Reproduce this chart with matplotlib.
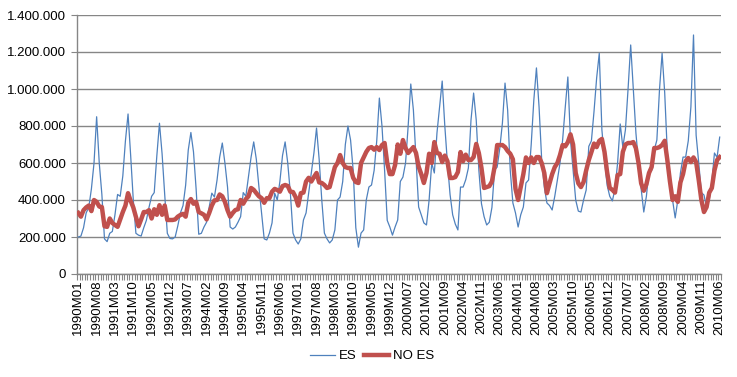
import matplotlib
matplotlib.use("Agg")
import matplotlib.pyplot as plt
from matplotlib.ticker import FuncFormatter, FixedLocator

start_year = 1990
n_months = 246

# values in thousands
es = [
    200, 205, 250, 330, 360, 460, 600, 850, 600, 430, 190, 175,
    220, 230, 320, 430, 420, 530, 720, 865, 640, 400, 220, 210,
    205, 250, 290, 360, 420, 440, 640, 815, 650, 430, 220, 192,
    190, 200, 260, 330, 370, 480, 670, 765, 660, 460, 215, 220,
    254, 280, 362, 437, 416, 508, 632, 708, 600, 470, 254, 243,
    254, 280, 310, 440, 420, 524, 632, 714, 620, 470, 330, 190,
    184, 221, 276, 437, 400, 500, 640, 714, 600, 437, 221, 184,
    162, 190, 292, 330, 437, 546, 654, 789, 620, 400, 221, 190,
    168, 184, 238, 400, 416, 500, 700, 800, 724, 560, 250, 145,
    221, 238, 400, 470, 481, 560, 720, 951, 800, 560, 290, 254,
    210, 254, 292, 500, 524, 600, 800, 1027, 886, 620, 362, 320,
    276, 265, 400, 600, 546, 762, 900, 1043, 800, 600, 430, 320,
    270, 238, 470, 470, 510, 573, 832, 978, 832, 562, 380, 310,
    265, 280, 360, 562, 578, 680, 816, 1032, 886, 560, 384, 330,
    254, 320, 362, 492, 508, 700, 940, 1114, 903, 620, 470, 384,
    370, 346, 420, 508, 600, 724, 900, 1065, 724, 560, 400, 340,
    335, 400, 454, 690, 720, 880, 1060, 1193, 780, 616, 480, 420,
    395, 460, 600, 811, 686, 780, 1000, 1238, 995, 762, 600, 460,
    335, 420, 560, 560, 670, 724, 995, 1193, 978, 654, 480, 400,
    303, 400, 546, 632, 632, 720, 903, 1292, 750, 600, 440, 427,
    360, 400, 500, 654, 630, 740,
]

no_es = [
    330, 310, 345, 360, 370, 340, 400, 390, 365, 362, 258, 255,
    300, 276, 265, 255, 295, 335, 370, 437, 395, 360, 308, 258,
    295, 335, 335, 345, 300, 350, 320, 372, 320, 370, 292, 292,
    292, 295, 310, 319, 325, 310, 385, 405, 380, 390, 335, 328,
    320, 295, 330, 370, 398, 400, 430, 420, 390, 345, 310, 330,
    346, 350, 400, 380, 405, 420, 465, 455, 437, 420, 410, 385,
    410, 410, 445, 460, 454, 445, 475, 481, 476, 445, 443, 416,
    370, 437, 440, 500, 520, 500, 524, 546, 495, 492, 481, 465,
    470, 524, 578, 600, 643, 600, 578, 573, 573, 520, 497, 492,
    600, 630, 660, 681, 686, 672, 686, 670, 697, 708, 600, 540,
    540, 589, 700, 650, 724, 681, 654, 670, 686, 654, 580, 540,
    492, 546, 650, 600, 713, 654, 650, 605, 640, 610, 519, 519,
    524, 551, 659, 610, 645, 616, 616, 632, 703, 654, 573, 465,
    470, 475, 500, 578, 697, 697, 697, 686, 665, 650, 620, 460,
    400, 470, 540, 630, 600, 630, 600, 632, 632, 600, 546, 437,
    490, 540, 578, 600, 643, 697, 690, 713, 755, 700, 546, 490,
    470, 497, 560, 616, 659, 705, 686, 720, 730, 660, 550, 465,
    455, 440, 535, 540, 660, 700, 708, 708, 713, 680, 600, 490,
    450, 485, 546, 578, 681, 681, 686, 697, 720, 616, 500, 400,
    420, 390, 495, 540, 610, 627, 605, 630, 605, 508, 400, 335,
    362, 440, 465, 560, 616, 632,
]

categories = ["%dM%02d" % (start_year + i // 12, i % 12 + 1) for i in range(n_months)]
label_step = 7

plt.rcParams['font.family'] = ['Liberation Sans', 'DejaVu Sans']

fig = plt.figure(figsize=(7.37, 3.77), dpi=100)
ax = fig.add_axes([77 / 737, 1 - 274 / 377, (721 - 77) / 737, (274 - 15) / 377])

x = list(range(n_months))
ax.plot(x, [v * 1000 for v in es], color='#4F81BD', lw=0.9, label='ES', zorder=3)
ax.plot(x, [v * 1000 for v in no_es], color='#C0504D', lw=3.2, label='NO ES', zorder=4,
        solid_joinstyle='round')

ax.set_xlim(-0.5, n_months - 0.5)
ax.set_ylim(0, 1400000)
ax.set_yticks(range(0, 1400001, 200000))
ax.yaxis.set_major_formatter(FuncFormatter(lambda v, p: "{:,}".format(int(v)).replace(",", ".")))
ax.grid(axis='y', color='#868686', lw=1.0)
ax.set_axisbelow(True)

# x ticks: marks at category boundaries, labels every 7 categories
ax.xaxis.set_minor_locator(FixedLocator([i - 0.5 for i in range(n_months + 1)]))
ax.set_xticks(x[::label_step])
ax.set_xticklabels(categories[::label_step], rotation=90, fontsize=9.5)
ax.tick_params(axis='x', which='major', length=0, pad=4)
ax.tick_params(axis='x', which='minor', length=4, color='#868686', width=0.8)
ax.tick_params(axis='y', length=4, color='#868686', labelsize=9.5, pad=4)

for s in ['top', 'right']:
    ax.spines[s].set_visible(False)
for s in ['left', 'bottom']:
    ax.spines[s].set_color('#868686')
    ax.spines[s].set_linewidth(1.0)

leg = fig.legend(loc='center', bbox_to_anchor=(372 / 737, 1 - 356 / 377), ncol=2, frameon=False,
                 fontsize=9.5, handlelength=1.9, handletextpad=0.3, columnspacing=0.6)

fig.savefig('out.png', dpi=100)
